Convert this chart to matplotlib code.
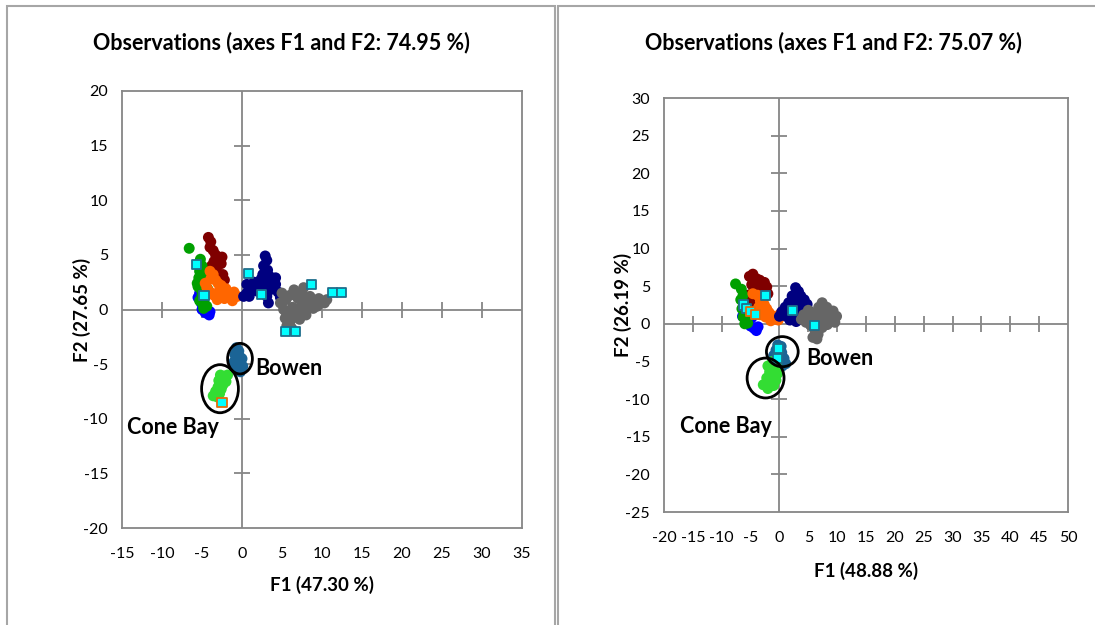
import matplotlib.pyplot as plt
from matplotlib.patches import Ellipse, Rectangle
import numpy as np

plt.rcParams['font.family'] = ['Lato', 'DejaVu Sans']
plt.rcParams['axes.unicode_minus'] = False

# ---- left panel data (F1, F2 scores per group) ----
l_blue_x = [-5.3, -4.9, -5.1, -4.6, -5.0, -4.6, -4.0, -4.1, -5.5]
l_blue_y = [1.5, 1.0, 0.6, 0.4, 0.0, -0.3, -0.2, -0.5, 1.1]
l_maroon_x = [-4.2, -3.9, -4.0, -3.6, -3.3, -3.0, -3.5, -2.6, -2.5, -3.8, -3.2, -2.4, -2.2, -3.0, -4.4, -3.7]
l_maroon_y = [6.6, 6.2, 5.7, 5.4, 5.0, 4.6, 4.4, 4.2, 4.8, 4.0, 3.6, 3.2, 2.7, 3.0, 3.4, 3.1]
l_green_x = [-6.6, -5.2, -5.0, -5.3, -4.9, -5.4, -5.1, -5.6, -4.8, -5.2, -4.6, -5.0, -4.7, -5.3, -4.9, -4.4, -4.8, -5.5, -4.5, -4.3]
l_green_y = [5.6, 4.6, 4.0, 3.5, 3.2, 2.9, 2.6, 2.4, 2.2, 1.9, 1.6, 1.3, 1.0, 0.8, 0.5, 0.3, 0.1, 2.1, 2.8, 1.9]
l_orange_x = [-4.0, -3.6, -3.9, -3.3, -3.0, -2.6, -2.8, -2.3, -2.0, -1.7, -1.4, -1.0, -0.6, -1.2, -4.4, -4.0, -3.5, -3.1, -4.6, -2.2]
l_orange_y = [3.5, 3.2, 2.8, 2.7, 2.4, 2.2, 1.8, 1.6, 1.9, 1.4, 1.1, 1.6, 1.2, 0.8, 2.0, 1.6, 1.3, 0.9, 2.4, 1.0]
l_navy_x = [2.9, 3.1, 2.7, 3.2, 2.6, 3.5, 2.4, 3.8, 2.0, 3.0, 4.2, 1.2, 1.8, 0.6, 0.2, 0.9, 2.4, 3.5, 4.5, 4.8, 3.1, 1.5, 0.6, 3.3, 4.2]
l_navy_y = [4.9, 4.5, 4.0, 3.6, 3.2, 3.0, 2.8, 2.5, 2.2, 2.3, 2.3, 1.9, 1.7, 1.5, 1.2, 1.2, 1.5, 1.8, 1.6, 1.1, 1.2, 2.5, 2.3, 0.6, 2.9]
l_gray_x = [5.0, 5.5, 6.0, 6.5, 7.0, 7.5, 8.0, 8.5, 9.0, 9.6, 10.3, 10.6, 5.2, 5.8, 6.3, 6.8, 7.4, 7.9, 8.4, 8.9, 9.4, 5.4, 6.0, 6.5, 5.6, 6.2, 7.2, 8.0, 4.8, 7.7]
l_gray_y = [1.5, 0.9, 1.3, 1.8, 1.0, 1.5, 0.8, 1.2, 0.7, 1.0, 0.6, 0.9, 0.0, -0.4, 0.2, -0.2, 0.3, -0.1, 0.4, 0.1, 0.3, -0.8, -1.1, -0.7, -1.5, -1.7, -0.9, -0.5, 0.6, 2.0]
l_bowen_x = [-0.7, -0.4, -0.9, -0.3, -0.8, -0.2, -0.6, -1.0, 0.1, -0.5, -0.2, -0.9, 0.0]
l_bowen_y = [-3.5, -3.8, -4.1, -4.3, -4.6, -4.8, -5.0, -4.8, -5.2, -5.4, -5.7, -5.3, -4.5]
l_cone_x = [-2.2, -2.6, -2.0, -2.9, -2.4, -3.0, -2.6, -3.3, -2.8, -3.6, -3.1, -2.5, -1.8, -2.7]
l_cone_y = [-6.1, -6.3, -6.6, -6.5, -6.9, -7.1, -7.3, -7.5, -7.7, -7.9, -8.0, -7.0, -6.0, -6.0]
l_sq_x = [-5.7, -4.75, 0.8, 2.4, 8.7, 11.3, 12.4, 5.4, 6.7, -2.5]
l_sq_y = [4.1, 1.3, 3.3, 1.4, 2.3, 1.6, 1.6, -2.0, -2.0, -8.5]
l_sq_edge = ['#1F6E8C'] * 9 + ['#E46C0A']

# ---- right panel data ----
r_blue_x = [-6.4, -5.8, -5.0, -4.4, -4.8, -4.0, -3.7]
r_blue_y = [1.0, 0.2, -0.3, -0.6, 0.8, -0.9, -0.4]
r_maroon_x = [-5.2, -4.6, -4.0, -3.4, -2.6, -4.8, -3.8, -2.2, -4.5, -3.3, -5.5, -2.0, -4.9]
r_maroon_y = [6.3, 6.6, 6.0, 5.8, 5.5, 5.2, 5.0, 4.9, 4.3, 4.2, 3.8, 4.0, 2.8]
r_green_x = [-7.6, -6.6, -6.3, -6.7, -6.2, -6.5, -6.0, -6.3, -5.8, -5.5, -6.0, -5.4]
r_green_y = [5.3, 4.6, 3.8, 3.2, 2.6, 2.0, 1.5, 0.9, 0.5, 0.1, 0.0, 1.0]
r_orange_x = [-4.6, -3.8, -3.3, -2.8, -2.6, -2.2, -1.8, -1.3, -0.8, -0.2, -2.8, -3.3, -1.5, -2.4, -3.6, -4.2, 0.1]
r_orange_y = [4.0, 3.8, 3.0, 3.2, 2.5, 2.0, 1.5, 1.1, 0.8, 0.5, 1.6, 1.2, 0.4, 0.9, 2.2, 1.6, 1.3]
r_navy_x = [2.8, 3.3, 3.7, 2.2, 4.3, 2.8, 4.8, 1.6, 3.6, 1.0, 0.4, 0.0, 1.2, 2.4, 4.0, 5.0, 3.4, 4.4, 1.8, 2.9, 5.1]
r_navy_y = [4.8, 4.3, 3.7, 3.7, 3.2, 3.0, 2.6, 2.8, 2.4, 2.2, 1.6, 1.0, 1.0, 1.6, 1.6, 1.8, 0.8, 0.6, 0.5, 0.3, 1.0]
r_gray_x = [4.2, 5.0, 5.6, 6.2, 6.8, 7.4, 8.2, 9.3, 9.9, 8.8, 7.6, 6.9, 5.4, 6.1, 6.7, 5.8, 6.5, 7.4, 8.3, 9.6, 4.6, 7.9, 3.8]
r_gray_y = [1.2, 1.8, 0.8, 1.5, 2.2, 2.8, 2.2, 1.7, 1.0, 0.8, 1.0, 0.3, -0.2, -0.8, -1.4, -1.8, -2.0, -0.5, -0.1, 0.2, 0.2, 1.7, 0.6]
r_bowen_x = [-0.3, 0.3, -0.6, 0.4, -1.0, 0.0, 0.8, -0.5, 1.1, 0.5, -0.9]
r_bowen_y = [-2.8, -3.0, -3.5, -3.8, -4.2, -4.4, -4.6, -4.8, -5.3, -5.6, -4.9]
r_cone_x = [-1.2, -0.6, -2.0, -0.8, -1.7, -0.3, -1.2, -2.2, -0.6, -1.7, -2.8, -2.0, -1.0]
r_cone_y = [-5.0, -5.3, -5.6, -6.0, -6.4, -6.6, -7.0, -7.2, -7.5, -7.9, -8.1, -8.6, -8.2]
r_sq_x = [-2.4, -6.2, -5.7, -5.0, -4.2, 2.3, 6.1, -0.1, -0.3]
r_sq_y = [3.8, 2.5, 2.0, 1.6, 1.2, 1.8, -0.2, -3.3, -4.6]
r_sq_edge = ['#1F6E8C', '#1F6E8C', '#1F6E8C', '#E46C0A', '#E46C0A', '#1F6E8C', '#1F6E8C', '#1F6E8C', '#1F6E8C']

AX_GRAY = '#868686'
COLORS = {'blue': '#0000FF', 'maroon': '#7F0000', 'green': '#00A000', 'orange': '#FF6600',
          'navy': '#000080', 'gray': '#666666', 'bowen': '#1B6496', 'cone': '#33DD33'}


def draw_panel(ax, groups, sq_x, sq_y, sq_edge, xlim, ylim, step, ellipses, labels,
               xlab, ylab, xlab_y, ylab_x):
    ax.set_xlim(xlim)
    ax.set_ylim(ylim)
    xt = np.arange(xlim[0], xlim[1] + 1, step)
    yt = np.arange(ylim[0], ylim[1] + 1, 5)
    ax.set_xticks(xt)
    ax.set_yticks(yt)
    ax.tick_params(length=0, labelsize=11.5)
    ax.tick_params(axis='x', pad=14)
    ax.tick_params(axis='y', pad=10)
    for s in ax.spines.values():
        s.set_color(AX_GRAY)
        s.set_linewidth(1.3)

    # axes crossing at the origin with their own tick marks
    ax.axhline(0, color=AX_GRAY, lw=1.3, zorder=1)
    ax.axvline(0, color=AX_GRAY, lw=1.3, zorder=1)
    inner_x = [v for v in xt if v not in (xlim[0], xlim[1], 0)]
    inner_y = [v for v in yt if v not in (ylim[0], ylim[1], 0)]
    ax.plot(inner_x, [0] * len(inner_x), ls='none', marker='|', ms=11, mew=1.3, color=AX_GRAY, zorder=1)
    ax.plot([0] * len(inner_y), inner_y, ls='none', marker='_', ms=11, mew=1.3, color=AX_GRAY, zorder=1)

    for name, gx, gy in groups:
        ax.scatter(gx, gy, s=62, color=COLORS[name], edgecolors='none', zorder=3)
    ax.scatter(sq_x, sq_y, s=42, marker='s', color='#00FFFF', edgecolors=sq_edge,
               linewidths=1.3, zorder=4)

    for cx, cy, w, h in ellipses:
        ax.add_patch(Ellipse((cx, cy), w, h, fill=False, ec='black', lw=2, zorder=5))
    for tx, ty, t in labels:
        ax.text(tx, ty, t, fontsize=15.5, fontweight='bold', va='center', ha='left', zorder=6)

    ax.set_xlabel(xlab, fontsize=13.5, fontweight='bold')
    ax.set_ylabel(ylab, fontsize=13.5, fontweight='bold')
    ax.xaxis.set_label_coords(0.5, xlab_y)
    ax.yaxis.set_label_coords(ylab_x, 0.5)


fig = plt.figure(figsize=(10.95, 6.25), dpi=100)

# panel frames
fig.add_artist(Rectangle((7 / 1095, -0.05), 548 / 1095, 1 - 6 / 625 + 0.05, transform=fig.transFigure,
                         fill=False, ec='#A6A6A6', lw=1.5))
fig.add_artist(Rectangle((558 / 1095, -0.05), 0.6, 1 - 6 / 625 + 0.05, transform=fig.transFigure,
                         fill=False, ec='#A6A6A6', lw=1.5))

ax1 = fig.add_axes([122 / 1095, 1 - 528 / 625, 400 / 1095, 437 / 625])
draw_panel(ax1,
           [('blue', l_blue_x, l_blue_y), ('maroon', l_maroon_x, l_maroon_y),
            ('green', l_green_x, l_green_y), ('orange', l_orange_x, l_orange_y),
            ('navy', l_navy_x, l_navy_y), ('gray', l_gray_x, l_gray_y),
            ('bowen', l_bowen_x, l_bowen_y), ('cone', l_cone_x, l_cone_y)],
           l_sq_x, l_sq_y, l_sq_edge, (-15, 35), (-20, 20), 5,
           [(-0.25, -4.5, 3.1, 2.8), (-2.75, -7.25, 4.6, 4.4)],
           [(1.6, -5.4, 'Bowen'), (-14.4, -10.8, 'Cone Bay')],
           'F1 (47.30 %)', 'F2 (27.65 %)', -0.11, -0.077)

ax2 = fig.add_axes([664 / 1095, 1 - 512 / 625, 404 / 1095, 414 / 625])
draw_panel(ax2,
           [('blue', r_blue_x, r_blue_y), ('maroon', r_maroon_x, r_maroon_y),
            ('green', r_green_x, r_green_y), ('orange', r_orange_x, r_orange_y),
            ('navy', r_navy_x, r_navy_y), ('gray', r_gray_x, r_gray_y),
            ('bowen', r_bowen_x, r_bowen_y), ('cone', r_cone_x, r_cone_y)],
           r_sq_x, r_sq_y, r_sq_edge, (-20, 50), (-25, 30), 5,
           [(0.5, -3.7, 5.5, 4.0), (-2.4, -7.2, 6.4, 5.3)],
           [(4.6, -4.6, 'Bowen'), (-17.3, -13.7, 'Cone Bay')],
           'F1 (48.88 %)', 'F2 (26.19 %)', -0.121, -0.08)

fig.text(281 / 1095, 1 - 43 / 625, 'Observations (axes F1 and F2: 74.95 %)',
         ha='center', va='center', fontsize=15.5, fontweight='bold')
fig.text(833 / 1095, 1 - 43 / 625, 'Observations (axes F1 and F2: 75.07 %)',
         ha='center', va='center', fontsize=15.5, fontweight='bold')

fig.savefig('out.png', dpi=100)
